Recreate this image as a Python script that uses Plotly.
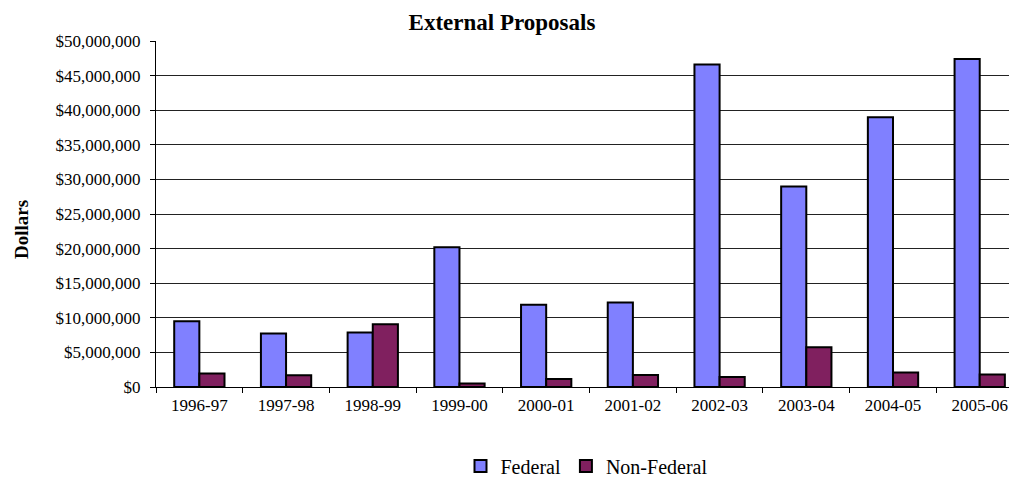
import plotly.graph_objects as go

categories = ["1996-97", "1997-98", "1998-99", "1999-00", "2000-01",
              "2001-02", "2002-03", "2003-04", "2004-05", "2005-06"]
federal = [9.49e6, 7.72e6, 7.86e6, 20.19e6, 11.9e6, 12.2e6, 46.6e6, 28.96e6, 38.97e6, 47.4e6]
non_federal = [1.94e6, 1.69e6, 9.06e6, 0.49e6, 1.16e6, 1.73e6, 1.45e6, 5.74e6, 2.08e6, 1.79e6]

FONT = "Liberation Serif"
OFF = 8  # page body margin offset
W, H = 1017 - OFF, 480 - OFF

fig = go.Figure()
fig.add_trace(go.Bar(name="Federal", x=categories, y=federal,
                     marker=dict(color="#8080FF", line=dict(color="black", width=2))))
fig.add_trace(go.Bar(name="Non-Federal", x=categories, y=non_federal,
                     marker=dict(color="#80205F", line=dict(color="black", width=2))))

fig.update_layout(
    width=W, height=H,
    margin=dict(l=156 - OFF, r=0, t=41 - OFF, b=93, pad=0),
    paper_bgcolor="white", plot_bgcolor="white",
    font=dict(family=FONT, size=17, color="black"),
    title=dict(text="<b>External Proposals</b>", x=(502 - OFF) / W, xref="container", xanchor="center",
               y=1 - (22 - OFF) / H, yref="container", yanchor="middle",
               font=dict(family=FONT, size=23, color="black")),
    barmode="group", bargap=0.42, bargroupgap=0,
    showlegend=True,
    legend=dict(orientation="h", x=0.5, xanchor="center", xref="paper",
                y=1 - (466 - OFF) / H, yanchor="middle", yref="container",
                font=dict(family=FONT, size=20, color="black"), itemwidth=30,
                bgcolor="rgba(0,0,0,0)"),
    annotations=[dict(text="<b>Dollars</b>", textangle=-90, showarrow=False,
                      xref="paper", x=0, xshift=-(156 - 21), xanchor="center",
                      yref="paper", y=(387 - 230) / 346, yanchor="middle",
                      font=dict(family=FONT, size=19, color="black"))],
)
fig.update_xaxes(type="category", range=[-0.5, 9.43], showline=True, linecolor="black", linewidth=1,
                 ticks="outside", tickson="boundaries", ticklen=5, tickcolor="black",
                 ticklabelstandoff=3,
                 showgrid=False, tickfont=dict(family=FONT, size=17, color="black"))
fig.update_yaxes(range=[0, 50e6], dtick=5e6, tickformat="$,.0f", showline=True, linecolor="black",
                 linewidth=1, ticks="outside", ticklen=5, tickcolor="black",
                 ticklabelstandoff=6,
                 showgrid=True, gridcolor="#222222", gridwidth=1, zeroline=False,
                 tickfont=dict(family=FONT, size=17, color="black"))

fig.write_html("out.html")
